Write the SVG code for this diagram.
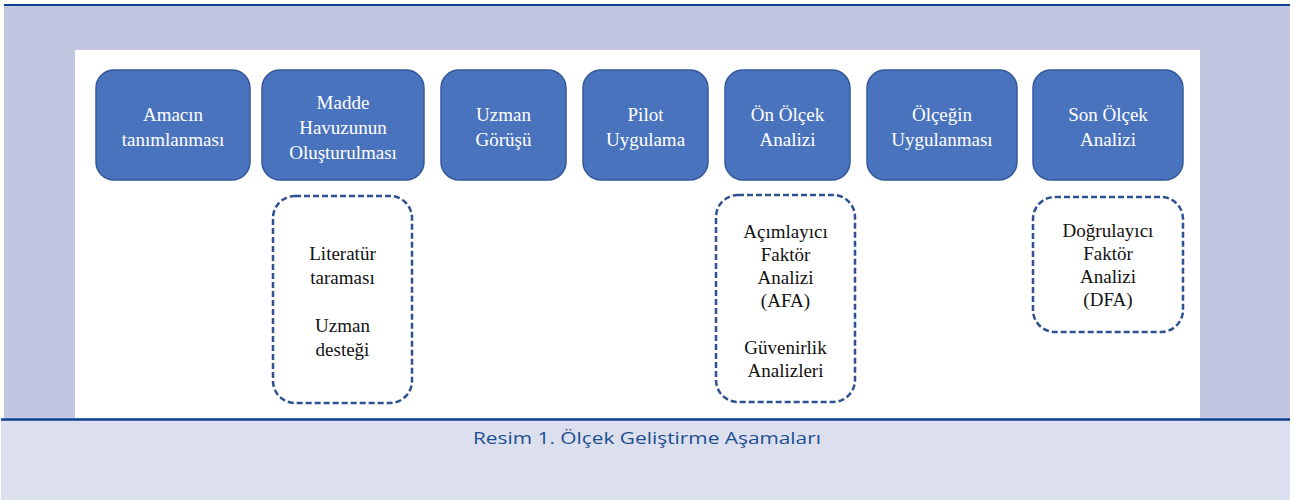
<svg xmlns="http://www.w3.org/2000/svg" width="1295" height="502" viewBox="0 0 1295 502">
  <style>
    .step { fill: #4a73bd; stroke: #34589a; stroke-width: 1.5; }
    .note { fill: #ffffff; stroke: #2f5190; stroke-width: 2.5; stroke-dasharray: 6 3; }
    .st { font-family: "Liberation Serif", "Times New Roman", serif; font-size: 19px; fill: #ffffff; text-anchor: middle; }
    .nt { font-family: "Liberation Serif", "Times New Roman", serif; font-size: 19px; fill: #111111; text-anchor: middle; }
    .cap { font-family: "Open Sans", "Liberation Sans", sans-serif; font-size: 17px; fill: #1d4e91; text-anchor: middle; }
  </style>

  <!-- page background -->
  <rect x="0" y="0" width="1295" height="502" fill="#ffffff"/>
  <rect x="4" y="6" width="1286" height="413" fill="#c2c6e0"/>
  <rect x="1" y="420" width="1289" height="80" fill="#dce0ee"/>
  <line x1="4" y1="5" x2="1290" y2="5" stroke="#0f4390" stroke-width="2"/>
  <line x1="1" y1="419.5" x2="1290" y2="419.5" stroke="#0f4390" stroke-width="2.5"/>

  <!-- white figure panel -->
  <rect x="75" y="50" width="1125" height="368" fill="#ffffff"/>

  <!-- process steps -->
  <g id="step1">
    <rect class="step" x="96" y="70" width="154" height="110" rx="18"/>
    <text class="st" x="173" y="121">Amacın</text>
    <text class="st" x="173" y="146">tanımlanması</text>
  </g>
  <g id="step2">
    <rect class="step" x="262" y="70" width="162" height="110" rx="18"/>
    <text class="st" x="343" y="109">Madde</text>
    <text class="st" x="343" y="134">Havuzunun</text>
    <text class="st" x="343" y="159">Oluşturulması</text>
  </g>
  <g id="step3">
    <rect class="step" x="441" y="70" width="125" height="110" rx="18"/>
    <text class="st" x="503.5" y="121">Uzman</text>
    <text class="st" x="503.5" y="146">Görüşü</text>
  </g>
  <g id="step4">
    <rect class="step" x="583" y="70" width="125" height="110" rx="18"/>
    <text class="st" x="645.5" y="121">Pilot</text>
    <text class="st" x="645.5" y="146">Uygulama</text>
  </g>
  <g id="step5">
    <rect class="step" x="725" y="70" width="125" height="110" rx="18"/>
    <text class="st" x="787.5" y="121">Ön Ölçek</text>
    <text class="st" x="787.5" y="146">Analizi</text>
  </g>
  <g id="step6">
    <rect class="step" x="867" y="70" width="150" height="110" rx="18"/>
    <text class="st" x="942" y="121">Ölçeğin</text>
    <text class="st" x="942" y="146">Uygulanması</text>
  </g>
  <g id="step7">
    <rect class="step" x="1033" y="70" width="150" height="110" rx="18"/>
    <text class="st" x="1108" y="121">Son Ölçek</text>
    <text class="st" x="1108" y="146">Analizi</text>
  </g>

  <!-- detail notes -->
  <g id="note2">
    <rect class="note" x="273" y="196" width="139" height="207" rx="22"/>
    <text class="nt" x="342.5" y="260">Literatür</text>
    <text class="nt" x="342.5" y="284">taraması</text>
    <text class="nt" x="342.5" y="332">Uzman</text>
    <text class="nt" x="342.5" y="356">desteği</text>
  </g>
  <g id="note5">
    <rect class="note" x="716" y="195" width="139" height="207" rx="22"/>
    <text class="nt" x="785.5" y="238">Açımlayıcı</text>
    <text class="nt" x="785.5" y="261">Faktör</text>
    <text class="nt" x="785.5" y="284">Analizi</text>
    <text class="nt" x="785.5" y="307">(AFA)</text>
    <text class="nt" x="785.5" y="354">Güvenirlik</text>
    <text class="nt" x="785.5" y="377">Analizleri</text>
  </g>
  <g id="note7">
    <rect class="note" x="1033" y="197" width="150" height="135" rx="22"/>
    <text class="nt" x="1108" y="237">Doğrulayıcı</text>
    <text class="nt" x="1108" y="260">Faktör</text>
    <text class="nt" x="1108" y="283">Analizi</text>
    <text class="nt" x="1108" y="306">(DFA)</text>
  </g>

  <g id="connectors"></g>

  <!-- caption -->
  <text class="cap" x="647" y="444" textLength="348" lengthAdjust="spacingAndGlyphs">Resim 1. Ölçek Geliştirme Aşamaları</text>
</svg>
